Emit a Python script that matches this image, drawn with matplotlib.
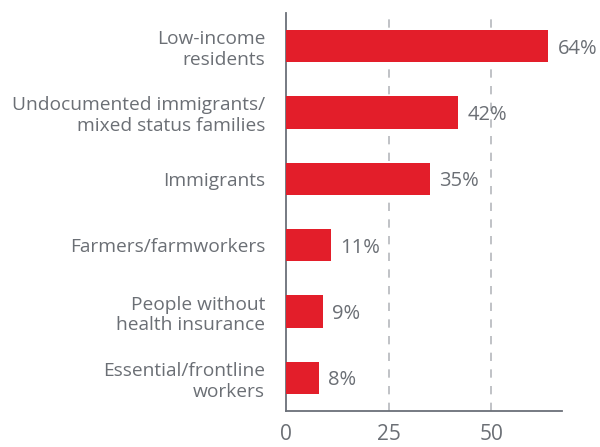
import matplotlib.pyplot as plt

categories = [
    'Low-income\nresidents',
    'Undocumented immigrants/\nmixed status families',
    'Immigrants',
    'Farmers/farmworkers',
    'People without\nhealth insurance',
    'Essential/frontline\nworkers',
]
values = [64, 42, 35, 11, 9, 8]
xticks = [0, 25, 50]

BAR = '#e31e2a'
GRAY = '#6b6f75'

plt.rcParams['font.family'] = ['Open Sans', 'DejaVu Sans']

fig = plt.figure(figsize=(6, 4.47), dpi=100)
ax = fig.add_axes([0.4767, 0.0805, 0.46, 0.8905])

ypos = list(range(len(categories)))
ax.barh(ypos, values, height=0.49, color=BAR, zorder=3)

for y, v in zip(ypos, values):
    ax.text(v + 2.2, y + 0.04, f'{v}%', va='center', ha='left', fontsize=14.5, color=GRAY)

ax.set_ylim(len(categories) - 0.5, -0.5)
ax.set_xlim(0, 67.3)
ax.set_yticks(ypos)
ax.set_yticklabels(categories, fontsize=13.8, color=GRAY, linespacing=1.2)
ax.set_xticks(xticks)
ax.set_xticklabels([str(t) for t in xticks], fontsize=15, color=GRAY)
ax.tick_params(axis='y', length=0, pad=15)
ax.tick_params(axis='x', length=0, pad=9)

for t in xticks[1:]:
    ax.axvline(t, color='#b5b8bc', linestyle=(0, (5, 5)), linewidth=1.2, zorder=1)

for s in ['top', 'right']:
    ax.spines[s].set_visible(False)
for s in ['left', 'bottom']:
    ax.spines[s].set_color('#6b7078')
    ax.spines[s].set_linewidth(1.3)

fig.savefig('out.png', dpi=100, facecolor='white')
